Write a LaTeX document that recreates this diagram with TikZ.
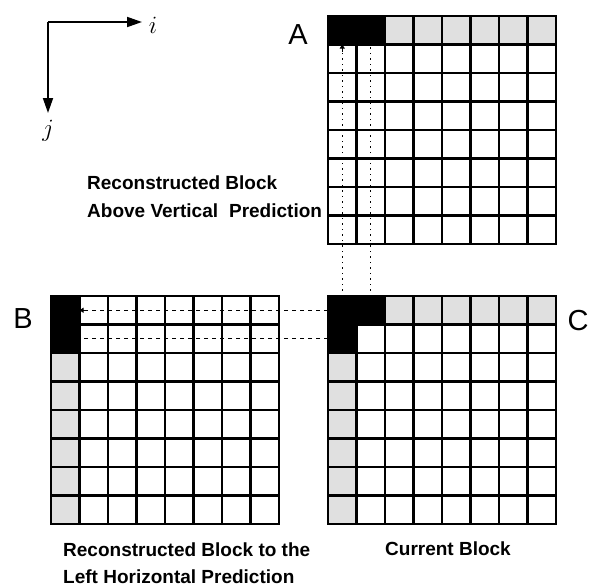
\documentclass[tikz,border=0pt]{standalone}
\usepackage{fontspec}
\setmainfont{Liberation Sans}
\usetikzlibrary{arrows.meta}
\newcommand\cs{28.5}
\newcommand\blockgrid[2]{%
  \foreach \k in {0,...,8}{%
    \draw[gridline] (#1+\k*\cs,#2) -- (#1+\k*\cs,#2+8*\cs);
    \draw[gridline] (#1,#2+\k*\cs) -- (#1+8*\cs,#2+\k*\cs);
  }}
\newcommand\cellfill[5]{% style, X, Y, col, row
  \fill[#1] (#2+#4*\cs,#3+#5*\cs) rectangle (#2+#4*\cs+\cs,#3+#5*\cs+\cs);}
\begin{document}
\begin{tikzpicture}[x=1pt,y=-1pt,
  gridline/.style={line width=2.2pt,line cap=rect},
  graycell/.style={fill=black!12},
  blackcell/.style={fill=black},
  axis/.style={line width=1.8pt,-{Triangle[length=15pt,width=10pt]}},
  dotline/.style={line width=0.8pt,dash pattern=on 1.5pt off 4pt},
  dashline/.style={line width=0.8pt,dash pattern=on 4pt off 4pt},
  smalltip/.style={-{Triangle[length=4pt,width=5pt]}},
  caption/.style={font=\fontsize{19}{19}\selectfont\bfseries,anchor=west,inner sep=0pt},
  letter/.style={font=\fontsize{29}{29}\selectfont,inner sep=0pt},
  axlabel/.style={font=\fontsize{24}{24}\selectfont,inner sep=0pt}]
\useasboundingbox (0,0) rectangle (590,587);
\fill[white] (0,0) rectangle (590,587);
% ---- block A (top) ----
\foreach \c in {2,...,7}{\cellfill{graycell}{328}{16}{\c}{0}}
\cellfill{blackcell}{328}{16}{0}{0}
\cellfill{blackcell}{328}{16}{1}{0}
\blockgrid{328}{16}
% ---- block B (left) ----
\foreach \r in {2,...,7}{\cellfill{graycell}{51}{296}{0}{\r}}
\cellfill{blackcell}{51}{296}{0}{0}
\cellfill{blackcell}{51}{296}{0}{1}
\blockgrid{51}{296}
% ---- block C (current) ----
\foreach \c in {2,...,7}{\cellfill{graycell}{328}{296}{\c}{0}}
\foreach \r in {2,...,7}{\cellfill{graycell}{328}{296}{0}{\r}}
\cellfill{blackcell}{328}{296}{0}{0}
\cellfill{blackcell}{328}{296}{1}{0}
\cellfill{blackcell}{328}{296}{0}{1}
\blockgrid{328}{296}
% ---- named points ----
\coordinate (a1) at (342.25,44.5);
\coordinate (a2) at (370.75,44.5);
\coordinate (c1) at (342.25,296);
\coordinate (c2) at (370.75,296);
\coordinate (b1) at (79.5,310.25);
\coordinate (b2) at (79.5,338.75);
\coordinate (l1) at (328,310.25);
\coordinate (l2) at (328,338.75);
% ---- prediction connectors ----
\draw[dotline] (c1) -- (a1);
\draw[dotline] (c2) -- (a2);
\draw[line width=0.8pt,smalltip] (342.25,52) -- (a1);
\draw[dashline] (l1) -- (b1);
\draw[dashline] (l2) -- (b2);
\draw[line width=0.8pt,smalltip] (87,310.25) -- (b1);
% ---- axes ----
\coordinate (o) at (48,22);
\coordinate (ie) at (142,22);
\coordinate (je) at (48,113);
\draw[axis] (o) -- (ie);
\draw[axis] (o) -- (je);
\node[axlabel] (ilab) at (153,25) {$i$};
\node[axlabel] (jlab) at (48,131) {$j$};
% ---- letters ----
\node[letter] (A) at (298,35) {A};
\node[letter] (B) at (23,319) {B};
\node[letter] (C) at (578,321) {C};
% ---- captions ----
\node[caption] (capA1) at (87,183) {Reconstructed Block};
\node[caption] (capA2) at (87,211) {Above Vertical\hspace{0.3em} Prediction};
\node[caption] (capB1) at (63,550) {Reconstructed Block to the};
\node[caption] (capB2) at (63,577) {Left Horizontal Prediction};
\node[caption] (capC) at (385,549) {Current Block};
\end{tikzpicture}
\end{document}
